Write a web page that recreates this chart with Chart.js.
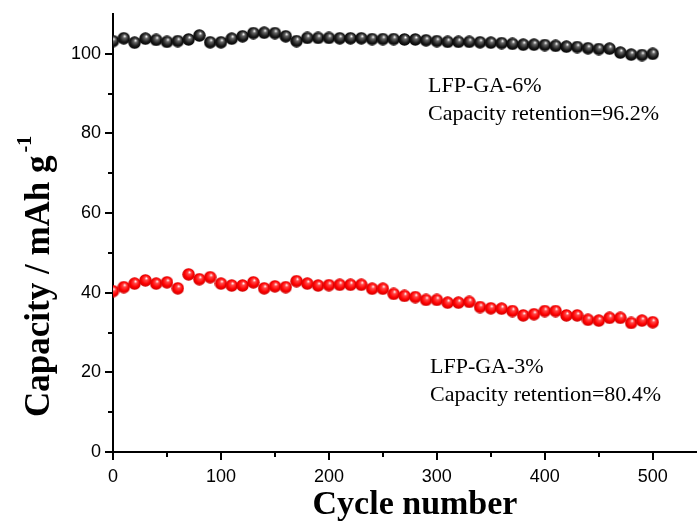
<!DOCTYPE html>
<html>
<head>
<meta charset="utf-8">
<script src="https://cdn.jsdelivr.net/npm/chart.js@4.4.1/dist/chart.umd.min.js"></script>
<style>
  html, body { margin: 0; padding: 0; background: #fff; }
  #wrap { width: 697px; height: 525px; }
</style>
</head>
<body>
<div id="wrap"><canvas id="capChart" width="697" height="525"></canvas></div>
<script>
// cycle numbers (every 10 cycles)
const cycles = [0, 10, 20, 30, 40, 50, 60, 70, 80, 90,
    100, 110, 120, 130, 140, 150, 160, 170, 180, 190,
    200, 210, 220, 230, 240, 250, 260, 270, 280, 290,
    300, 310, 320, 330, 340, 350, 360, 370, 380, 390,
    400, 410, 420, 430, 440, 450, 460, 470, 480, 490, 500];

// LFP-GA-6% capacity, mAh/g
const cap6 = [103.2, 103.9, 102.8, 103.8, 103.5, 103.0, 103.2, 103.6, 104.6, 102.9,
    102.9, 103.8, 104.4, 105.2, 105.3, 105.2, 104.4, 103.2, 104.0, 104.0,
    104.0, 103.9, 103.9, 103.9, 103.7, 103.7, 103.7, 103.6, 103.6, 103.4,
    103.2, 103.0, 103.0, 103.0, 102.9, 102.8, 102.7, 102.5, 102.3, 102.3,
    102.2, 102.0, 101.8, 101.7, 101.4, 101.2, 101.3, 100.3, 99.8, 99.7, 100.0];

// LFP-GA-3% capacity, mAh/g
const cap3 = [40.4, 41.4, 42.3, 43.1, 42.3, 42.6, 41.1, 44.6, 43.4, 43.9,
    42.3, 41.8, 41.8, 42.6, 41.1, 41.6, 41.4, 42.9, 42.3, 41.8,
    41.9, 42.0, 42.0, 42.0, 41.0, 41.0, 39.7, 39.2, 38.9, 38.2,
    38.2, 37.5, 37.5, 37.7, 36.4, 36.1, 36.0, 35.4, 34.3, 34.6,
    35.4, 35.4, 34.3, 34.3, 33.2, 33.0, 33.7, 33.7, 32.4, 33.0, 32.6];

const xTicks = [0, 100, 200, 300, 400, 500];
const yTicks = [0, 20, 40, 60, 80, 100];
const xMinor = [50, 150, 250, 350, 450];
const yMinor = [10, 30, 50, 70, 90];

const notes = [
    { lines: ['LFP-GA-6%', 'Capacity retention=96.2%'], x: 428, y: 92 },
    { lines: ['LFP-GA-3%', 'Capacity retention=80.4%'], x: 430, y: 373 }
];

// shiny ball markers
function ball(light, mid, dark) {
    const c = document.createElement('canvas');
    c.width = 13; c.height = 13;
    const g = c.getContext('2d');
    const grad = g.createRadialGradient(7.6, 4.2, 0.3, 6.5, 6.5, 6.5);
    grad.addColorStop(0, '#ffffff');
    grad.addColorStop(0.22, light);
    grad.addColorStop(0.65, mid);
    grad.addColorStop(1, dark);
    g.fillStyle = grad;
    g.beginPath();
    g.arc(6.5, 6.5, 6.2, 0, Math.PI * 2);
    g.fill();
    return c;
}
const blackBall = ball('#6a6a6a', '#1a1a1a', '#000000');
const redBall = ball('#ff4a4a', '#ff0000', '#c80000');

const serif = '"Liberation Serif", "Times New Roman", serif';
const sans = '"Liberation Sans", Arial, sans-serif';

const extras = {
    id: 'extras',
    afterDraw(chart) {
        const ctx = chart.ctx;
        const xs = chart.scales.x, ys = chart.scales.y;
        const area = chart.chartArea;
        ctx.save();
        // minor ticks
        ctx.strokeStyle = '#000';
        ctx.lineWidth = 2;
        ctx.beginPath();
        xMinor.forEach(v => {
            const px = Math.round(xs.getPixelForValue(v));
            ctx.moveTo(px, area.bottom);
            ctx.lineTo(px, area.bottom + 5);
        });
        yMinor.forEach(v => {
            const py = Math.round(ys.getPixelForValue(v));
            ctx.moveTo(area.left, py);
            ctx.lineTo(area.left - 5, py);
        });
        ctx.stroke();

        // annotations
        ctx.fillStyle = '#000';
        ctx.font = '22px ' + serif;
        ctx.textBaseline = 'alphabetic';
        ctx.textAlign = 'left';
        notes.forEach(n => {
            n.lines.forEach((t, i) => ctx.fillText(t, n.x, n.y + i * 28));
        });

        // x title
        ctx.font = 'bold 34px ' + serif;
        ctx.textAlign = 'center';
        ctx.fillText('Cycle number', 415, 514);

        // y title with superscript
        ctx.font = 'bold 35px ' + serif;
        ctx.translate(49, 417);
        ctx.rotate(-Math.PI / 2);
        ctx.textAlign = 'left';
        const main = 'Capacity / mAh g';
        ctx.fillText(main, 0, 0);
        const w = ctx.measureText(main).width;
        ctx.font = 'bold 20px ' + serif;
        ctx.fillText('-1', w + 3, -18);
        ctx.restore();
    }
};

new Chart(document.getElementById('capChart'), {
    type: 'scatter',
    data: {
        datasets: [{
            label: 'LFP-GA-6%',
            data: cycles.map((c, i) => ({ x: c, y: cap6[i] })),
            pointStyle: blackBall,
            pointRadius: 6,
            pointHoverRadius: 6
        }, {
            label: 'LFP-GA-3%',
            data: cycles.map((c, i) => ({ x: c, y: cap3[i] })),
            pointStyle: redBall,
            pointRadius: 6,
            pointHoverRadius: 6
        }]
    },
    options: {
        responsive: false,
        animation: false,
        devicePixelRatio: 1,
        layout: { autoPadding: false, padding: { top: 14, right: 0, left: 0, bottom: 0 } },
        plugins: {
            legend: { display: false },
            tooltip: { enabled: false }
        },
        scales: {
            x: {
                type: 'linear',
                min: 0,
                max: 541,
                afterFit: s => { s.height = 73; s.paddingLeft = 0; s.paddingRight = 0; },
                afterBuildTicks: s => { s.ticks = xTicks.map(v => ({ value: v })); },
                border: { color: '#000', width: 2 },
                grid: { drawOnChartArea: false, drawTicks: true, tickLength: 8, color: '#000', lineWidth: 2 },
                ticks: { color: '#000', padding: 6, font: { family: sans, size: 18 }, maxRotation: 0 }
            },
            y: {
                type: 'linear',
                min: 0,
                max: 110,
                afterFit: s => { s.width = 113; s.paddingTop = 0; s.paddingBottom = 0; },
                afterBuildTicks: s => { s.ticks = yTicks.map(v => ({ value: v })); },
                border: { color: '#000', width: 2 },
                grid: { drawOnChartArea: false, drawTicks: true, tickLength: 8, color: '#000', lineWidth: 2 },
                ticks: { color: '#000', padding: 4, font: { family: sans, size: 18 } }
            }
        }
    },
    plugins: [extras]
});
</script>
</body>
</html>
